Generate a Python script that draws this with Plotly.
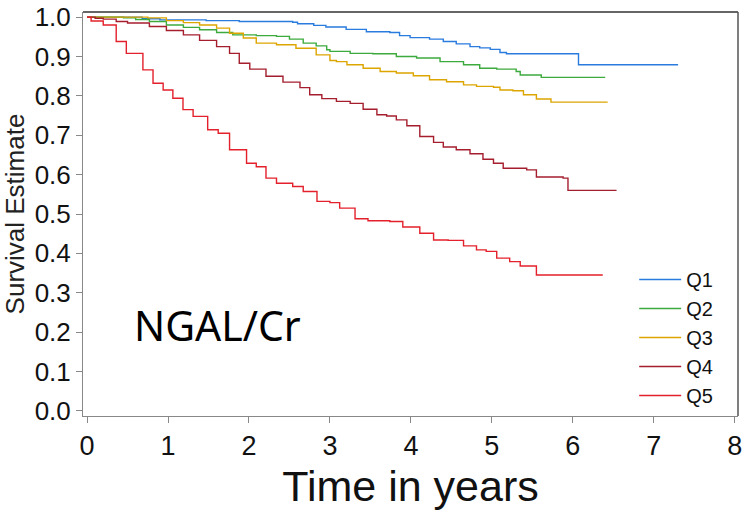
import plotly.graph_objects as go

# ---- data ----
series_names = ["Q1", "Q2", "Q3", "Q4", "Q5"]
series_colors = ["#2A7BDE", "#3DAA3D", "#DDA500", "#A51E2E", "#E3202B"]

q1_t = [0, 0.68, 0.9, 1.47, 1.88, 2.54, 2.6, 2.8, 2.95, 3.2, 3.45, 3.74, 3.86, 3.99, 4.23, 4.4, 4.56, 4.73, 4.85, 4.98, 5.1, 5.18, 6.07, 7.3]
q1_s = [1.0, 0.996, 0.993, 0.991, 0.989, 0.987, 0.983, 0.979, 0.975, 0.969, 0.963, 0.961, 0.953, 0.948, 0.944, 0.938, 0.932, 0.925, 0.922, 0.918, 0.910, 0.907, 0.879, 0.879]

q2_t = [0, 0.45, 0.6, 0.77, 0.98, 1.19, 1.39, 1.6, 1.8, 2.09, 2.34, 2.5, 2.67, 2.83, 2.96, 3.0, 3.25, 3.53, 3.82, 4.07, 4.36, 4.65, 4.85, 5.06, 5.3, 5.35, 5.61, 6.4]
q2_s = [1.0, 0.998, 0.994, 0.989, 0.980, 0.974, 0.968, 0.961, 0.955, 0.953, 0.951, 0.944, 0.934, 0.927, 0.917, 0.913, 0.908, 0.907, 0.900, 0.896, 0.887, 0.879, 0.870, 0.868, 0.862, 0.853, 0.847, 0.847]

q3_t = [0, 0.75, 0.98, 1.19, 1.39, 1.6, 1.76, 1.93, 2.09, 2.34, 2.58, 2.83, 3.0, 3.08, 3.21, 3.41, 3.62, 3.82, 4.03, 4.23, 4.44, 4.65, 4.81, 5.02, 5.1, 5.26, 5.39, 5.55, 5.73, 6.43]
q3_s = [1.0, 0.998, 0.991, 0.986, 0.980, 0.972, 0.959, 0.947, 0.934, 0.930, 0.921, 0.904, 0.890, 0.887, 0.879, 0.870, 0.862, 0.858, 0.851, 0.841, 0.836, 0.828, 0.824, 0.822, 0.815, 0.813, 0.803, 0.792, 0.784, 0.784]

q4_t = [0, 0.1, 0.2, 0.36, 0.5, 0.77, 0.98, 1.19, 1.39, 1.6, 1.76, 1.88, 2.01, 2.21, 2.42, 2.63, 2.75, 2.9, 3.08, 3.25, 3.41, 3.58, 3.7, 3.82, 3.95, 4.11, 4.28, 4.4, 4.56, 4.73, 4.89, 5.02, 5.14, 5.43, 5.55, 5.88, 5.94, 6.54]
q4_s = [1.0, 0.997, 0.995, 0.989, 0.985, 0.976, 0.966, 0.955, 0.941, 0.925, 0.908, 0.883, 0.868, 0.850, 0.835, 0.821, 0.803, 0.793, 0.786, 0.781, 0.766, 0.752, 0.749, 0.739, 0.724, 0.697, 0.682, 0.670, 0.663, 0.653, 0.639, 0.629, 0.616, 0.612, 0.594, 0.591, 0.560, 0.560]

q5_t = [0, 0.05, 0.2, 0.36, 0.485, 0.69, 0.815, 0.94, 1.06, 1.185, 1.31, 1.49, 1.62, 1.76, 1.97, 2.09, 2.21, 2.34, 2.54, 2.67, 2.84, 3.0, 3.12, 3.31, 3.47, 3.74, 3.9, 4.11, 4.28, 4.46, 4.65, 4.81, 4.93, 5.06, 5.22, 5.35, 5.55, 6.37]
q5_s = [1.0, 0.99, 0.98, 0.938, 0.908, 0.866, 0.832, 0.815, 0.794, 0.765, 0.748, 0.714, 0.705, 0.663, 0.629, 0.620, 0.591, 0.578, 0.570, 0.557, 0.532, 0.529, 0.515, 0.488, 0.483, 0.481, 0.467, 0.451, 0.434, 0.433, 0.419, 0.409, 0.405, 0.388, 0.379, 0.368, 0.345, 0.345]

x_ticks = [0, 1, 2, 3, 4, 5, 6, 7, 8]
y_ticks = [round(0.1 * i, 1) for i in range(11)]
y_tick_text = ["%.1f" % v for v in y_ticks]

times = [q1_t, q2_t, q3_t, q4_t, q5_t]
survs = [q1_s, q2_s, q3_s, q4_s, q5_s]

FONT = "Liberation Sans, Arial, sans-serif"

fig = go.Figure()
for name, color, t, s in zip(series_names, series_colors, times, survs):
    fig.add_trace(go.Scatter(x=t, y=s, mode="lines", name=name,
                             line=dict(color=color, width=1.4, shape="hv")))

fig.update_layout(
    width=749, height=517,
    margin=dict(l=83, r=11, t=12, b=101, autoexpand=False),
    paper_bgcolor="white", plot_bgcolor="white",
    font=dict(family=FONT, color="#111"),
    showlegend=True,
    legend=dict(x=0.8415, y=0.386, xanchor="left", yanchor="top",
                font=dict(size=20, family=FONT, color="#111"),
                bgcolor="rgba(0,0,0,0)", itemwidth=42, tracegroupgap=0),
    xaxis=dict(range=[-0.05, 8.04], tickvals=x_ticks, ticks="outside", ticklen=6,
               tickcolor="#888", showgrid=False, zeroline=False, showline=True,
               linecolor="#888", linewidth=1, automargin=False,
               tickfont=dict(size=27, family=FONT, color="#111"),
               title=dict(text="Time in years", font=dict(size=43, family=FONT, color="#111"), standoff=10)),
    yaxis=dict(range=[-0.013, 1.013], tickvals=y_ticks, ticktext=y_tick_text, ticks="outside",
               ticklen=6, tickcolor="#888", showgrid=False, zeroline=False, showline=True,
               linecolor="#888", linewidth=1, automargin=False, ticklabeloverflow="allow",
               tickfont=dict(size=26, family=FONT, color="#111"),
               title=dict(text="Survival Estimate", font=dict(size=26, family=FONT, color="#222"), standoff=2)),
    shapes=[
        dict(type="line", xref="x domain", yref="y domain", x0=0, x1=1, y0=1, y1=1,
             line=dict(color="#333", width=1.5)),
        dict(type="line", xref="x domain", yref="y domain", x0=1, x1=1, y0=0, y1=1,
             line=dict(color="#555", width=1.5)),
    ],
    annotations=[
        dict(text="NGAL/Cr", xref="x domain", yref="y domain", x=0.206, y=0.225,
             xanchor="center", yanchor="middle", showarrow=False,
             font=dict(size=41, family="Noto Sans, Open Sans, sans-serif", color="#000")),
    ],
)

# remove the browser's default 8px body margin so the figure fills the window exactly
fig.write_html("out.html", config={"displayModeBar": False},
               post_script="document.body.style.margin='0';")
